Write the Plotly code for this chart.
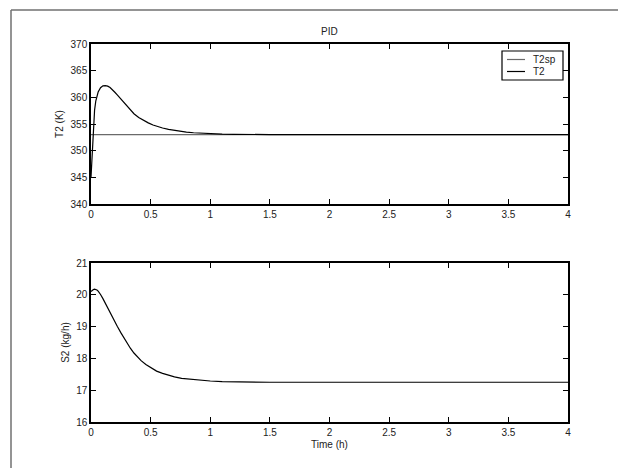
import plotly.graph_objects as go
from plotly.subplots import make_subplots

# Data
t_T2 = [0, 0.005, 0.01, 0.015, 0.02, 0.025, 0.03, 0.04, 0.05, 0.06, 0.08, 0.10, 0.12, 0.14,
        0.16, 0.18, 0.20, 0.22, 0.25, 0.28, 0.30, 0.33, 0.36, 0.40, 0.44, 0.48, 0.52, 0.56,
        0.60, 0.65, 0.70, 0.75, 0.80, 0.86, 0.92, 1.0, 1.1, 1.2, 1.35, 1.5, 2.0, 4.0]
T2 = [345.0, 347.5, 350.0, 352.5, 354.6, 356.3, 357.6, 359.3, 360.3, 361.0, 361.8, 362.15,
      362.2, 362.1, 361.85, 361.45, 360.95, 360.45, 359.7, 358.8, 358.25, 357.55, 356.93,
      356.23, 355.67, 355.21, 354.82, 354.51, 354.25, 353.98, 353.77, 353.61, 353.48, 353.36,
      353.27, 353.19, 353.11, 353.07, 353.03, 353.01, 353.0, 353.0]
t_sp = [0, 4]
T2sp = [353, 353]

t_S2 = [0, 0.01, 0.02, 0.03, 0.04, 0.05, 0.06, 0.07, 0.08, 0.10, 0.12, 0.14, 0.16, 0.18, 0.20,
        0.22, 0.25, 0.28, 0.30, 0.33, 0.36, 0.39, 0.42, 0.46, 0.50, 0.55, 0.60, 0.65, 0.70,
        0.76, 0.83, 0.90, 1.0, 1.1, 1.25, 1.5, 2.0, 4.0]
S2 = [20.10, 20.14, 20.165, 20.175, 20.17, 20.15, 20.115, 20.07, 20.01, 19.88, 19.73, 19.58,
      19.43, 19.29, 19.15, 19.01, 18.81, 18.62, 18.49, 18.32, 18.17, 18.04, 17.93, 17.81,
      17.71, 17.60, 17.53, 17.47, 17.42, 17.37, 17.34, 17.31, 17.29, 17.27, 17.26, 17.25,
      17.25, 17.25]

x_ticks = [0, 0.5, 1, 1.5, 2, 2.5, 3, 3.5, 4]
x_tick_text = ["0", "0.5", "1", "1.5", "2", "2.5", "3", "3.5", "4"]
y1_ticks = [340, 345, 350, 355, 360, 365, 370]
y2_ticks = [16, 17, 18, 19, 20, 21]
legend_names = ["T2sp", "T2"]
legend_colors = ["#6a6a6a", "#000000"]

W, H = 618, 468
L, R, T, B = 91, 568, 44, 422
top_bottom = 204
bot_top = 263
ph = B - T
pw = R - L


def px(x):
    return (x - L) / pw


def py(y):
    return (B - y) / ph


fig = make_subplots(rows=2, cols=1)

fig.add_trace(go.Scatter(x=t_sp, y=T2sp, mode="lines", name="T2sp",
                         line=dict(color=legend_colors[0], width=1.2)), row=1, col=1)
fig.add_trace(go.Scatter(x=t_T2, y=T2, mode="lines", name="T2",
                         line=dict(color=legend_colors[1], width=1.2)), row=1, col=1)
fig.add_trace(go.Scatter(x=t_S2, y=S2, mode="lines", name="S2",
                         line=dict(color="#000000", width=1.2)), row=2, col=1)

font = dict(family="Liberation Sans, Arial, sans-serif", size=10, color="#222222")

axis_common = dict(showgrid=False, zeroline=False, showline=True, linecolor="#000000", linewidth=1.5,
                   mirror="ticks", ticks="inside", ticklen=5, tickcolor="#000000", tickwidth=1,
                   tickfont=font)

fig.update_xaxes(range=[0, 4], tickvals=x_ticks, ticktext=x_tick_text, **axis_common)
fig.update_yaxes(**axis_common)
fig.update_yaxes(range=[340, 370], tickvals=y1_ticks, row=1, col=1,
                 title=dict(text="T2 (K)", font=font, standoff=5))
fig.update_yaxes(range=[16, 21], tickvals=y2_ticks, row=2, col=1,
                 title=dict(text="S2 (kg/h)", font=font, standoff=5))
fig.update_xaxes(row=2, col=1, title=dict(text="Time (h)", font=font, standoff=4))

# Manual legend (box, sample lines, labels) and figure frame
shapes = [
    dict(type="line", xref="paper", yref="paper", x0=px(11), x1=px(11), y0=py(10), y1=py(470),
         line=dict(color="#707070", width=1.5)),
    dict(type="line", xref="paper", yref="paper", x0=px(11), x1=px(620), y0=py(10), y1=py(10),
         line=dict(color="#707070", width=1.5)),
    dict(type="rect", xref="paper", yref="paper", x0=px(502), x1=px(563), y0=py(51), y1=py(80),
         fillcolor="#ffffff", line=dict(color="#000000", width=1.2)),
]
annotations = [dict(text="PID", x=0.5, y=py(32), xref="paper", yref="paper",
                    showarrow=False, font=font, xanchor="center", yanchor="middle")]
for i, (name, col) in enumerate(zip(legend_names, legend_colors)):
    yy = 59.5 + i * 12
    shapes.append(dict(type="line", xref="paper", yref="paper", x0=px(507), x1=px(525),
                       y0=py(yy), y1=py(yy), line=dict(color=col, width=1.2)))
    annotations.append(dict(text=name, x=px(531), y=py(yy), xref="paper", yref="paper",
                            showarrow=False, font=font, xanchor="left", yanchor="middle"))

fig.update_layout(
    width=W, height=H,
    margin=dict(l=L, r=W - R, t=T, b=H - B, pad=0),
    paper_bgcolor="#ffffff", plot_bgcolor="#ffffff",
    xaxis=dict(domain=[0, 1]),
    yaxis=dict(domain=[py(top_bottom), 1]),
    xaxis2=dict(domain=[0, 1]),
    yaxis2=dict(domain=[0, py(bot_top)]),
    showlegend=False,
    annotations=annotations,
    shapes=shapes,
)

fig.write_html("out.html")
